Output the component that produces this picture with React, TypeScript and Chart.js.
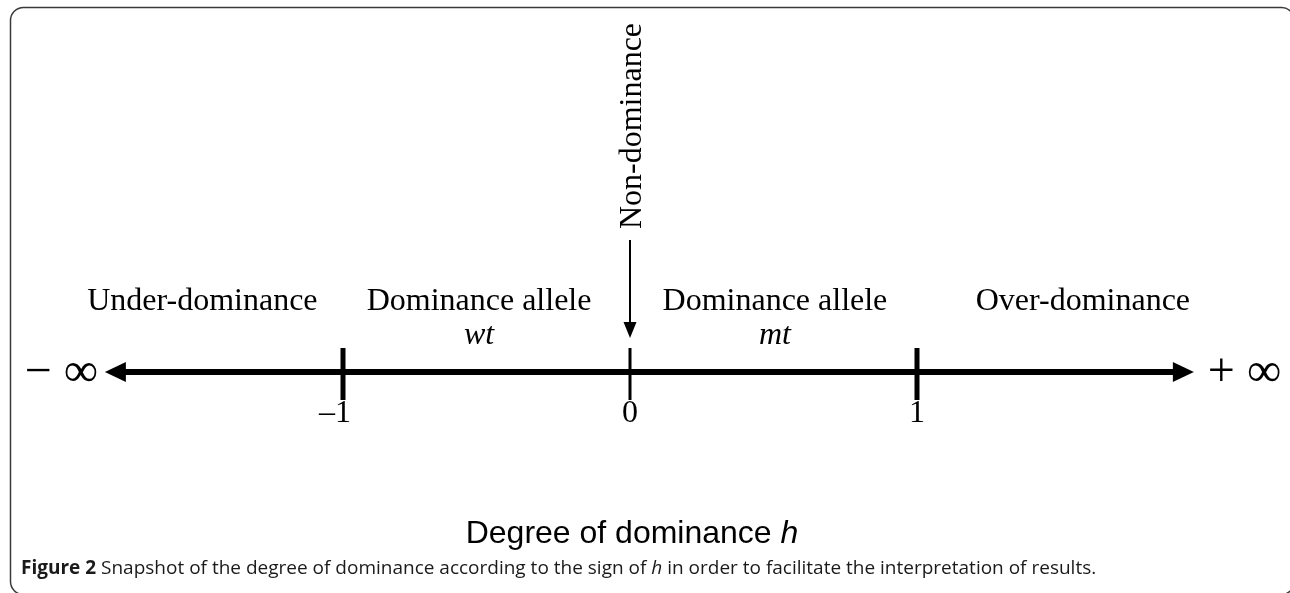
import { useEffect, useRef } from "react";
import { Chart, registerables } from "chart.js";

Chart.register(...registerables);

// ---- data ----
const axisRange = [-1.76, 1.895]; // visible part of the h axis (arrow bases)
const tickValues = [-1, 0, 1];
const tickLabels = ["\u20131", "0", "1"];
const tickSpan = [0.24, -0.28];
const regionCenters = [-1.49, -0.526, 0.505, 1.578];
const regionTitles = ["Under-dominance", "Dominance allele", "Dominance allele", "Over-dominance"];
const regionSubtitles = ["", "wt", "mt", ""];
const markerValue = 0;
const markerLabel = "Non-dominance";
const markerRange = [1.32, 0.49];
const leftEndLabel = "\u2212 \u221E";
const rightEndLabel = "+ \u221E";
const axisTitle = "Degree of dominance ";
const axisSymbol = "h";
const captionBold = "Figure 2";
const captionParts = [" Snapshot of the degree of dominance according to the sign of ", "h", " in order to facilitate the interpretation of results."];

const SERIF = '"Liberation Serif", "Times New Roman", serif';
const SANS = '"Liberation Sans", Arial, sans-serif';
const CAPTION = '"Open Sans", "Noto Sans", sans-serif';

const diagramPlugin = {
  id: "diagram",
  afterDraw(chart: any) {
    const ctx = chart.ctx as CanvasRenderingContext2D;
    const xs = chart.scales.x;
    const ys = chart.scales.y;
    const X = (v: number) => xs.getPixelForValue(v);
    const Y = (v: number) => ys.getPixelForValue(v);
    ctx.save();

    // frame
    ctx.strokeStyle = "#3a3a3a";
    ctx.lineWidth = 1.5;
    ctx.beginPath();
    (ctx as any).roundRect(10.5, 7.5, 1284, 587, 13);
    ctx.stroke();

    // axis arrowheads
    ctx.fillStyle = "#000";
    const y0 = Y(0);
    const xl = X(axisRange[0]);
    const xr = X(axisRange[1]);
    ctx.beginPath();
    ctx.moveTo(xl + 1, y0 - 10);
    ctx.lineTo(xl + 1, y0 + 10);
    ctx.lineTo(xl - 20, y0);
    ctx.closePath();
    ctx.fill();
    ctx.beginPath();
    ctx.moveTo(xr - 1, y0 - 10);
    ctx.lineTo(xr - 1, y0 + 10);
    ctx.lineTo(xr + 20, y0);
    ctx.closePath();
    ctx.fill();

    // marker arrowhead
    const mx = X(markerValue);
    const mb = Y(markerRange[1]);
    ctx.beginPath();
    ctx.moveTo(mx - 6.5, mb - 1);
    ctx.lineTo(mx + 6.5, mb - 1);
    ctx.lineTo(mx, mb + 15);
    ctx.closePath();
    ctx.fill();

    // marker label (rotated)
    ctx.save();
    ctx.translate(mx + 11, Y(2.46));
    ctx.rotate(-Math.PI / 2);
    ctx.font = `32px ${SERIF}`;
    ctx.textAlign = "center";
    ctx.textBaseline = "alphabetic";
    ctx.fillText(markerLabel, 0, 0);
    ctx.restore();

    // region labels
    ctx.textAlign = "center";
    ctx.textBaseline = "alphabetic";
    regionTitles.forEach((t, i) => {
      ctx.font = `32px ${SERIF}`;
      ctx.fillText(t, X(regionCenters[i]), Y(0.62));
      if (regionSubtitles[i]) {
        ctx.font = `italic 32px ${SERIF}`;
        ctx.fillText(regionSubtitles[i], X(regionCenters[i]), Y(0.28));
      }
    });

    // tick labels, digits centred on the tick
    ctx.font = `32px ${SERIF}`;
    ctx.textAlign = "right";
    tickLabels.forEach((t, i) => {
      const digitW = ctx.measureText(t.replace("\u2013", "")).width;
      ctx.fillText(t, X(tickValues[i]) + digitW / 2, Y(-0.5));
    });

    // infinity ends
    ctx.font = `48px ${SERIF}`;
    ctx.textBaseline = "middle";
    ctx.textAlign = "right";
    ctx.fillText(leftEndLabel, xl - 27, y0 + 1);
    ctx.textAlign = "left";
    ctx.fillText(rightEndLabel, xr + 34, y0 + 1);

    // axis title
    ctx.textBaseline = "alphabetic";
    ctx.font = `32px ${SANS}`;
    const w1 = ctx.measureText(axisTitle).width;
    ctx.font = `italic 32px ${SANS}`;
    const w2 = ctx.measureText(axisSymbol).width;
    const tx = X(0) + 2 - (w1 + w2) / 2;
    ctx.textAlign = "left";
    ctx.font = `32px ${SANS}`;
    ctx.fillText(axisTitle, tx, 543);
    ctx.font = `italic 32px ${SANS}`;
    ctx.fillText(axisSymbol, tx + w1, 543);

    // caption
    let cx = 21;
    const cy = 574;
    ctx.fillStyle = "#1a1a1a";
    ctx.font = `bold 19px ${CAPTION}`;
    ctx.fillText(captionBold, cx, cy);
    cx += ctx.measureText(captionBold).width;
    captionParts.forEach((p, i) => {
      ctx.font = i === 1 ? `italic 19px ${CAPTION}` : `19px ${CAPTION}`;
      ctx.fillText(p, cx, cy);
      cx += ctx.measureText(p).width;
    });

    ctx.restore();
  },
};

export default function App() {
  const ref = useRef<HTMLCanvasElement | null>(null);
  useEffect(() => {
    if (!ref.current) return;
    const lineDs = (data: { x: number; y: number }[], width: number) => ({
      data,
      showLine: true,
      borderColor: "#000",
      backgroundColor: "#000",
      borderWidth: width,
      pointRadius: 0,
      borderCapStyle: "butt" as const,
    });
    const datasets: any[] = [
      lineDs(axisRange.map((x) => ({ x, y: 0 })), 6),
      ...tickValues.map((v) => lineDs(tickSpan.map((y) => ({ x: v, y })), v === 0 ? 3 : 5)),
      lineDs(markerRange.map((y) => ({ x: markerValue, y })), 2),
    ];
    const chart = new Chart(ref.current, {
      type: "scatter",
      data: { datasets },
      options: {
        animation: false,
        responsive: false,
        maintainAspectRatio: false,
        layout: { padding: 0 },
        plugins: { legend: { display: false }, tooltip: { enabled: false } },
        events: [],
        scales: {
          x: { type: "linear", min: -630 / 287, max: 660 / 287, display: false },
          y: { type: "linear", min: -2.21, max: 3.72, display: false },
        },
      },
      plugins: [diagramPlugin],
    });
    return () => chart.destroy();
  }, []);
  return (
    <div style={{ position: "fixed", left: 0, top: 0, width: 1290, height: 593, background: "#fff" }}>
      <canvas ref={ref} width={1290} height={593} style={{ display: "block" }} />
    </div>
  );
}
